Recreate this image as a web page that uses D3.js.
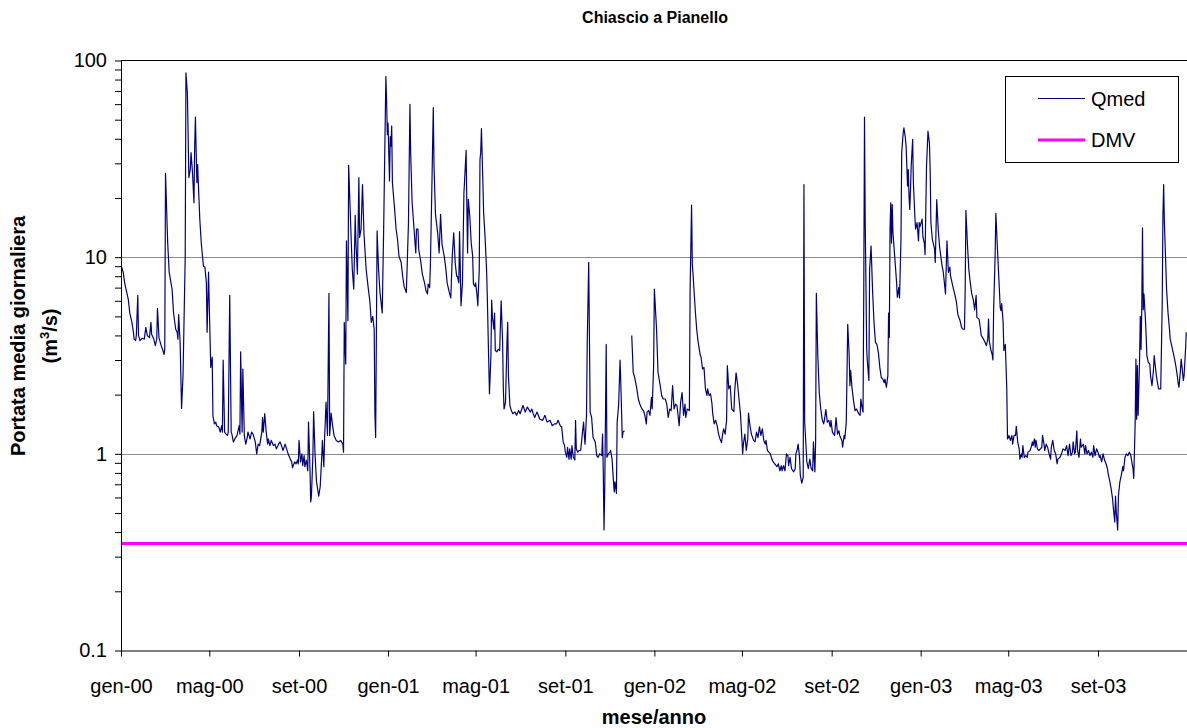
<!DOCTYPE html>
<html>
<head>
<meta charset="utf-8">
<script src="https://cdn.jsdelivr.net/npm/d3@7"></script>
<style>
  html, body { margin: 0; padding: 0; background: #fff; }
  svg { display: block; font-family: "Liberation Sans", Arial, sans-serif; }
</style>
</head>
<body>
<svg id="chart" width="1187" height="728"></svg>
<script>
// ---------- DATA (day of year, 0-based ; daily mean discharge m3/s) ----------
const q2000 = [[0,9.1],[3,8.4],[5,7.4],[10,6.1],[12,5.2],[15,4.66],[17,4.15],[18,3.83],[20,3.76],[21,4.0],[23,6.4],[24,4.0],[26,3.76],[29,3.87],[32,3.83],[34,4.4],[36,4.0],[39,3.9],[41,4.66],[42,4.06],[45,3.83],[47,3.55],[49,3.83],[50,5.5],[52,3.9],[55,3.55],[57,3.4],[59,3.2],[60,3.4],[61,26.7],[64,11.8],[66,8.4],[70,6.88],[72,5.2],[75,4.3],[77,4.15],[78,3.83],[79,5.1],[81,3.7],[83,1.7],[85,2.5],[88,10],[89,86.6],[91,68],[93,25.4],[95,28],[96,34],[98,26.9],[100,18.9],[101,36.7],[102,51.5],[104,23.9],[105,29.6],[106,23.9],[108,15.6],[110,11.8],[113,9.0],[115,8.9],[117,7.4],[118,4.15],[120,8.4],[121,5.66],[123,2.75],[125,3.1],[126,1.56],[128,1.42],[130,1.45],[131,1.39],[134,1.37],[136,1.29],[138,1.39],[139,1.29],[140,3.0],[142,1.29],[144,1.26],[146,1.24],[147,1.29],[149,6.4],[151,1.29],[152,1.26],[154,1.15],[157,1.21],[159,1.24],[162,1.39],[163,1.26],[164,3.3],[166,1.29],[167,2.7],[169,1.24],[171,1.12],[173,1.21],[174,1.29],[177,1.19],[179,1.29],[181,1.26],[184,1.15],[186,1.0],[188,1.12],[190,1.1],[193,1.29],[194,1.53],[195,1.29],[197,1.6],[199,1.29],[201,1.12],[202,1.19],[204,1.1],[206,1.17],[209,1.1],[211,1.12],[213,1.06],[216,1.12],[218,1.15],[220,1.1],[222,1.04],[225,1.12],[227,1.06],[229,1.0],[232,0.94],[234,0.91],[235,0.85],[238,0.91],[240,0.89],[242,0.93],[243,0.89],[244,1.17],[246,0.91],[248,1.0],[249,0.87],[251,0.98],[252,0.86],[254,0.93],[256,0.82],[257,1.45],[259,0.84],[260,0.57],[261,0.61],[263,0.98],[264,1.64],[266,0.98],[268,0.72],[271,0.61],[273,0.68],[275,0.94],[276,1.17],[278,0.86],[279,1.19],[281,1.83],[283,1.24],[285,6.55],[286,1.24],[288,1.61],[290,1.39],[292,1.24],[295,1.17],[298,1.15],[301,1.17],[304,1.12],[305,1.02],[306,4.66],[308,2.86],[309,12.1],[311,4.75],[312,29.3],[315,13.9],[317,8.65],[319,6.88],[321,16.3],[322,11.8],[324,8.2],[326,25.4],[327,12.6],[329,13.9],[331,23.4],[333,13.2],[336,8.65],[339,6.88],[341,6.0],[343,4.66],[345,5.0],[347,4.3],[348,1.6],[349,1.21],[351,13.6],[353,8.65],[355,6.6],[358,5.2],[360,13.9],[363,83],[364,63],[365,42]];

const q2001 = [[0,48],[2,24.4],[3,41],[4,36.7],[5,46.5],[6,23.9],[9,17.5],[11,13.9],[13,12.3],[15,10.1],[18,9.4],[20,8.0],[22,7.1],[25,6.6],[26,8.5],[28,15],[30,59.9],[31,34],[33,18.9],[36,13.3],[38,10.5],[39,13.9],[41,13.9],[42,11],[45,9.4],[47,8.2],[50,7.4],[52,6.75],[54,6.5],[55,7.3],[57,7.0],[58,9.0],[60,22],[62,57.6],[63,29.1],[65,16.5],[68,13.3],[70,10.5],[72,16.5],[74,11.6],[77,10.1],[79,8.9],[81,7.4],[84,6.6],[86,6.2],[88,10.1],[90,13.3],[92,9.4],[94,8.0],[95,8.0],[97,7.4],[98,13.5],[100,5.66],[102,7.4],[104,21.2],[105,24.9],[107,34.9],[108,18.2],[109,10.5],[110,19.7],[112,16.2],[114,11.8],[116,10.1],[117,7.3],[119,7.1],[120,7.4],[122,6.4],[123,5.66],[125,8.65],[126,31.3],[127,34],[128,45],[130,23.9],[131,16.9],[133,12.6],[135,8.65],[136,6.4],[138,2.92],[139,2.02],[141,3.16],[142,6.05],[143,5.0],[145,4.3],[146,5.2],[147,3.35],[149,3.3],[151,3.4],[153,3.35],[155,6.0],[157,3.7],[158,2.14],[159,1.69],[161,1.83],[163,3.7],[164,4.66],[165,2.5],[167,1.76],[169,1.66],[171,1.6],[174,1.63],[176,1.57],[179,1.66],[181,1.6],[185,1.76],[188,1.63],[191,1.73],[195,1.63],[197,1.69],[199,1.6],[201,1.53],[204,1.63],[206,1.57],[208,1.5],[212,1.48],[215,1.57],[218,1.45],[222,1.48],[225,1.39],[228,1.42],[231,1.42],[233,1.48],[236,1.39],[238,1.37],[240,1.15],[242,1.1],[243,1.02],[245,0.96],[246,1.08],[248,0.94],[249,1.06],[251,0.94],[252,1.1],[254,0.96],[256,0.93],[257,1.48],[258,1.06],[260,1.02],[262,1.04],[264,1.04],[266,1.24],[268,1.45],[269,1.24],[270,1.12],[272,1.57],[273,3.7],[275,9.4],[277,1.63],[279,1.53],[281,1.21],[284,1.15],[286,0.98],[288,0.96],[290,1.0],[293,0.98],[294,1.26],[295,0.81],[296,0.41],[297,0.665],[299,3.6],[300,0.96],[302,1.0],[304,1.02],[305,1.04],[307,0.94],[309,0.72],[310,0.64],[311,0.72],[313,0.63],[314,1.45],[316,1.76],[318,3.0],[319,2.3],[321,1.21],[322,1.29],[324,1.31],[325,null],[334,4.0],[336,2.6],[338,2.45],[341,2.14],[343,1.9],[345,1.79],[348,1.69],[350,1.66],[352,1.57],[354,1.42],[355,1.63],[357,1.66],[359,1.57],[361,1.94],[362,1.69],[364,2.81]];

const q2002 = [[0,6.88],[3,4.3],[5,2.6],[8,2.22],[10,1.98],[12,1.9],[15,1.9],[17,1.79],[19,1.53],[21,1.69],[23,1.66],[25,2.22],[27,1.69],[29,1.79],[31,1.76],[34,1.39],[36,1.83],[38,2.05],[40,1.57],[42,1.79],[43,1.53],[45,1.69],[48,1.66],[49,6.88],[51,18.4],[52,9.2],[53,8.2],[56,5.4],[58,4.3],[60,3.7],[63,3.16],[64,3.1],[66,2.7],[68,2.75],[70,2.14],[72,1.98],[73,2.14],[75,1.98],[77,2.02],[79,1.79],[80,1.6],[82,1.42],[84,1.48],[86,1.39],[88,1.26],[90,1.19],[92,1.14],[94,1.29],[95,1.34],[97,1.26],[99,1.48],[100,2.81],[102,2.14],[104,2.22],[106,1.69],[109,1.64],[110,2.05],[112,2.58],[114,2.27],[116,1.9],[118,1.6],[120,1.19],[121,1.0],[122,1.12],[124,1.26],[126,1.04],[128,1.19],[129,1.61],[131,1.39],[133,1.26],[136,1.17],[138,1.15],[140,1.29],[142,1.21],[144,1.37],[146,1.24],[148,1.34],[150,1.17],[152,1.12],[153,1.17],[155,1.04],[157,1.02],[159,1.0],[161,0.94],[163,0.91],[165,0.89],[168,0.86],[170,0.89],[172,0.82],[174,0.87],[175,0.82],[177,0.87],[179,0.82],[181,1.0],[183,0.98],[184,0.87],[186,0.96],[188,0.84],[190,0.82],[191,0.81],[193,0.84],[194,1.0],[196,1.06],[197,1.12],[199,0.96],[200,0.78],[202,0.71],[204,0.76],[205,23.4],[206,1.45],[209,0.91],[211,0.84],[213,0.94],[215,0.84],[217,0.82],[218,1.15],[220,0.81],[221,1.15],[222,6.55],[224,3.16],[226,2.05],[228,1.69],[230,1.5],[232,1.42],[233,1.48],[235,1.68],[237,1.45],[239,1.48],[241,1.37],[242,1.48],[244,1.29],[247,1.24],[249,1.53],[251,1.26],[253,1.31],[254,1.24],[257,1.17],[258,1.08],[260,1.24],[261,1.19],[263,1.45],[264,2.5],[265,4.56],[267,3.16],[268,2.22],[269,2.65],[271,2.14],[273,1.86],[275,1.66],[277,1.69],[280,1.6],[282,1.57],[283,1.9],[285,1.69],[286,1.63],[287,6.88],[288,51.5],[289,15],[291,3.4],[292,2.92],[294,2.36],[295,8.65],[297,11.4],[299,6.88],[301,4.66],[303,3.7],[305,3.6],[307,3.28],[309,2.75],[311,2.45],[313,2.4],[315,2.3],[316,2.4],[318,2.18],[320,2.5],[321,5.2],[322,3.9],[323,13.9],[324,18.9],[325,11.8],[326,18.5],[327,13.3],[330,9.4],[332,7.4],[333,6.25],[335,7.0],[336,6.2],[338,12.3],[339,34],[341,42.8],[342,45.5],[344,40.5],[345,36.7],[347,23],[348,27.9],[349,20.5],[350,17.5],[351,21.7],[352,29.1],[354,39.7],[355,23.9],[357,16.2],[358,13.9],[360,15],[362,12.1],[363,15],[364,14.3]];

const q2003 = [[2,15.6],[3,12.7],[5,11.8],[6,10.3],[8,29.1],[9,35.6],[10,43.7],[12,38],[13,28],[14,15],[16,12.3],[19,11],[20,9.4],[22,19.6],[24,13.9],[26,11.2],[29,9.2],[31,8.36],[33,7.1],[34,6.5],[36,12.1],[38,8.36],[40,8.9],[41,8.0],[43,7.4],[45,6.88],[47,6.4],[49,5.9],[51,5.1],[54,4.75],[56,4.4],[58,4.3],[60,4.3],[61,6.88],[62,17.3],[64,11.8],[66,8.65],[68,7.4],[70,6.5],[72,6.1],[74,5.4],[76,6.4],[77,4.94],[80,4.84],[82,4.3],[83,4.0],[86,3.83],[88,3.7],[90,3.55],[92,3.83],[93,4.84],[94,3.76],[96,3.4],[98,3.2],[99,3.0],[100,5.4],[102,10.1],[103,16.7],[105,11.4],[107,8.0],[109,5.55],[110,5.35],[111,5.8],[113,4.66],[114,3.35],[115,3.48],[116,3.6],[118,2.14],[119,1.19],[121,1.24],[123,1.17],[125,1.24],[126,1.12],[128,1.24],[130,1.24],[131,1.38],[133,1.15],[135,1.06],[136,0.94],[138,1.0],[139,0.96],[140,1.1],[142,0.96],[144,0.98],[146,0.96],[147,1.02],[150,1.04],[152,1.1],[153,1.15],[154,1.1],[156,1.19],[157,1.08],[158,1.17],[160,1.06],[162,1.04],[164,1.06],[166,1.08],[167,1.24],[169,1.12],[170,1.04],[172,1.12],[174,1.08],[176,1.0],[178,0.94],[179,1.08],[181,1.17],[183,1.04],[185,1.0],[187,0.89],[188,0.94],[191,0.96],[193,1.0],[195,1.06],[198,1.04],[200,1.1],[202,0.98],[204,1.12],[206,0.98],[208,1.02],[209,1.15],[211,1.0],[212,1.02],[214,1.31],[215,1.04],[217,0.96],[219,1.19],[220,1.08],[223,1.12],[225,1.0],[226,1.1],[228,1.0],[230,1.04],[232,0.98],[234,1.02],[236,0.96],[237,1.1],[239,0.98],[241,1.06],[243,1.02],[245,0.96],[246,0.98],[248,0.91],[250,1.0],[252,0.93],[254,0.89],[256,0.84],[257,0.79],[259,0.73],[261,0.665],[263,0.59],[264,0.53],[266,0.45],[267,0.61],[268,0.51],[270,0.41],[271,0.61],[273,0.72],[275,0.78],[277,0.86],[278,0.82],[280,0.96],[282,1.0],[284,0.98],[286,1.02],[288,0.98],[289,0.93],[291,0.84],[292,0.75],[294,1.45],[295,3.03],[296,1.5],[297,2.81],[298,1.57],[300,3.03],[301,5.0],[302,3.4],[303,5.4],[304,14.1],[305,5.4],[306,6.5],[308,4.84],[309,4.0],[310,3.16],[312,2.92],[314,2.86],[315,2.5],[317,2.22],[319,2.65],[320,3.16],[321,2.92],[323,2.5],[324,2.36],[326,2.14],[327,2.14],[329,2.14],[331,5.66],[332,16.2],[333,23.4],[334,15],[336,9.0],[337,6.88],[339,5.2],[341,4.3],[342,3.83],[344,3.55],[346,3.28],[348,3.03],[350,2.75],[352,2.45],[353,2.27],[354,2.18],[356,2.65],[357,3.03],[358,2.81],[360,2.36],[361,2.5],[363,3.4],[364,4.15]];

const years = [2000, 2001, 2002, 2003];
const seriesByYear = [q2000, q2001, q2002, q2003];
const dmvValue = 0.35;

const xTickLabels = ["gen-00","mag-00","set-00","gen-01","mag-01","set-01","gen-02","mag-02","set-02","gen-03","mag-03","set-03"];
const yTickLabels = ["0.1","1","10","100"];
const legendLabels = ["Qmed","DMV"];

// ---------- LAYOUT ----------
const W = 1187, H = 728;
const m = {left: 121, right: 0, top: 60.5, bottom: 77.5};
const svg = d3.select("#chart");

const x = d3.scaleUtc()
  .domain([new Date(Date.UTC(2000,0,1)), new Date(Date.UTC(2004,0,1))])
  .range([m.left, W - m.right]);
const y = d3.scaleLog().domain([0.1, 100]).range([H - m.bottom, m.top]);

const qData = [];
years.forEach((yr, i) => {
  seriesByYear[i].forEach(([doy, v]) => {
    qData.push({date: new Date(Date.UTC(yr, 0, 1 + doy)), v: v});
  });
});

// clip
svg.append("defs").append("clipPath").attr("id", "plotclip")
  .append("rect").attr("x", m.left).attr("y", m.top - 1)
  .attr("width", W - m.left - m.right).attr("height", H - m.bottom - m.top + 2);

// gridlines
const gridVals = [1, 10];
svg.append("g").selectAll("line").data(gridVals).join("line")
  .attr("x1", m.left).attr("x2", W - m.right)
  .attr("y1", d => Math.round(y(d)) + 0.5).attr("y2", d => Math.round(y(d)) + 0.5)
  .attr("stroke", "#8c8c8c").attr("stroke-width", 1);

// top border
svg.append("line").attr("x1", m.left).attr("x2", W - m.right)
  .attr("y1", y(100)).attr("y2", y(100)).attr("stroke", "#000").attr("stroke-width", 1);

// DMV line
svg.append("line")
  .attr("x1", x.range()[0]).attr("x2", x.range()[1])
  .attr("y1", y(dmvValue)).attr("y2", y(dmvValue))
  .attr("stroke", "#ff00ff").attr("stroke-width", 3);

// Qmed line
const line = d3.line()
  .defined(d => d.v != null)
  .x(d => x(d.date)).y(d => y(d.v));
svg.append("path").datum(qData)
  .attr("clip-path", "url(#plotclip)")
  .attr("fill", "none").attr("stroke", "#000080")
  .attr("stroke-width", 1.2).attr("stroke-linejoin", "round")
  .attr("d", line);

// Y axis
const yTickVals = [];
[0.1, 1, 10].forEach(dec => { for (let k = 1; k <= 9; k++) yTickVals.push(+(dec * k).toPrecision(3)); });
yTickVals.push(100);
const yAxis = d3.axisLeft(y).tickValues(yTickVals).tickSize(6).tickSizeOuter(0).tickPadding(8)
  .tickFormat(d => {
    const idx = [0.1, 1, 10, 100].indexOf(d);
    return idx >= 0 ? yTickLabels[idx] : "";
  });
const gy = svg.append("g").attr("transform", `translate(${m.left},0)`).call(yAxis);
gy.selectAll("text").attr("font-size", 20).attr("fill", "#000")
  .attr("font-family", '"Liberation Sans", Arial, sans-serif');
gy.selectAll("line, path").attr("stroke", "#000");

// X axis
const xTickDates = xTickLabels.map((_, i) => new Date(Date.UTC(2000, i * 4, 1)));
const xAxis = d3.axisBottom(x).tickValues(xTickDates).tickSize(6).tickSizeOuter(0).tickPadding(22)
  .tickFormat((d, i) => xTickLabels[i]);
const gx = svg.append("g").attr("transform", `translate(0,${H - m.bottom})`).call(xAxis);
gx.selectAll("text").attr("font-size", 20).attr("fill", "#000")
  .attr("font-family", '"Liberation Sans", Arial, sans-serif');
gx.selectAll("line, path").attr("stroke", "#000");

// Title
svg.append("text").attr("x", 655).attr("y", 23).attr("text-anchor", "middle")
  .attr("font-size", 16).attr("font-weight", "bold").text("Chiascio a Pianello");

// X axis title
svg.append("text").attr("x", 654).attr("y", 724).attr("text-anchor", "middle")
  .attr("font-size", 20).attr("font-weight", "bold").text("mese/anno");

// Y axis title
const yt = svg.append("text").attr("transform", "translate(25,336) rotate(-90)")
  .attr("text-anchor", "middle").attr("font-size", 20).attr("font-weight", "bold");
yt.append("tspan").attr("x", 0).attr("y", 0).text("Portata media giornaliera");
const yt2 = svg.append("text").attr("transform", "translate(57,336) rotate(-90)")
  .attr("text-anchor", "middle").attr("font-size", 20).attr("font-weight", "bold");
yt2.append("tspan").text("(m");
yt2.append("tspan").attr("font-size", 13).attr("dy", -8).text("3");
yt2.append("tspan").attr("dy", 8).text("/s)");

// Legend
const lg = svg.append("g");
lg.append("rect").attr("x", 1005.5).attr("y", 76.5).attr("width", 173).attr("height", 86)
  .attr("fill", "#fff").attr("stroke", "#000").attr("stroke-width", 1);
const legendStyles = [{color: "#000080", w: 1.2, y: 98.5}, {color: "#ff00ff", w: 3, y: 140}];
legendLabels.forEach((lab, i) => {
  const s = legendStyles[i];
  lg.append("line").attr("x1", 1038).attr("x2", 1085).attr("y1", s.y).attr("y2", s.y)
    .attr("stroke", s.color).attr("stroke-width", s.w);
  lg.append("text").attr("x", 1091).attr("y", s.y + 7).attr("font-size", 20).text(lab);
});
</script>
</body>
</html>
